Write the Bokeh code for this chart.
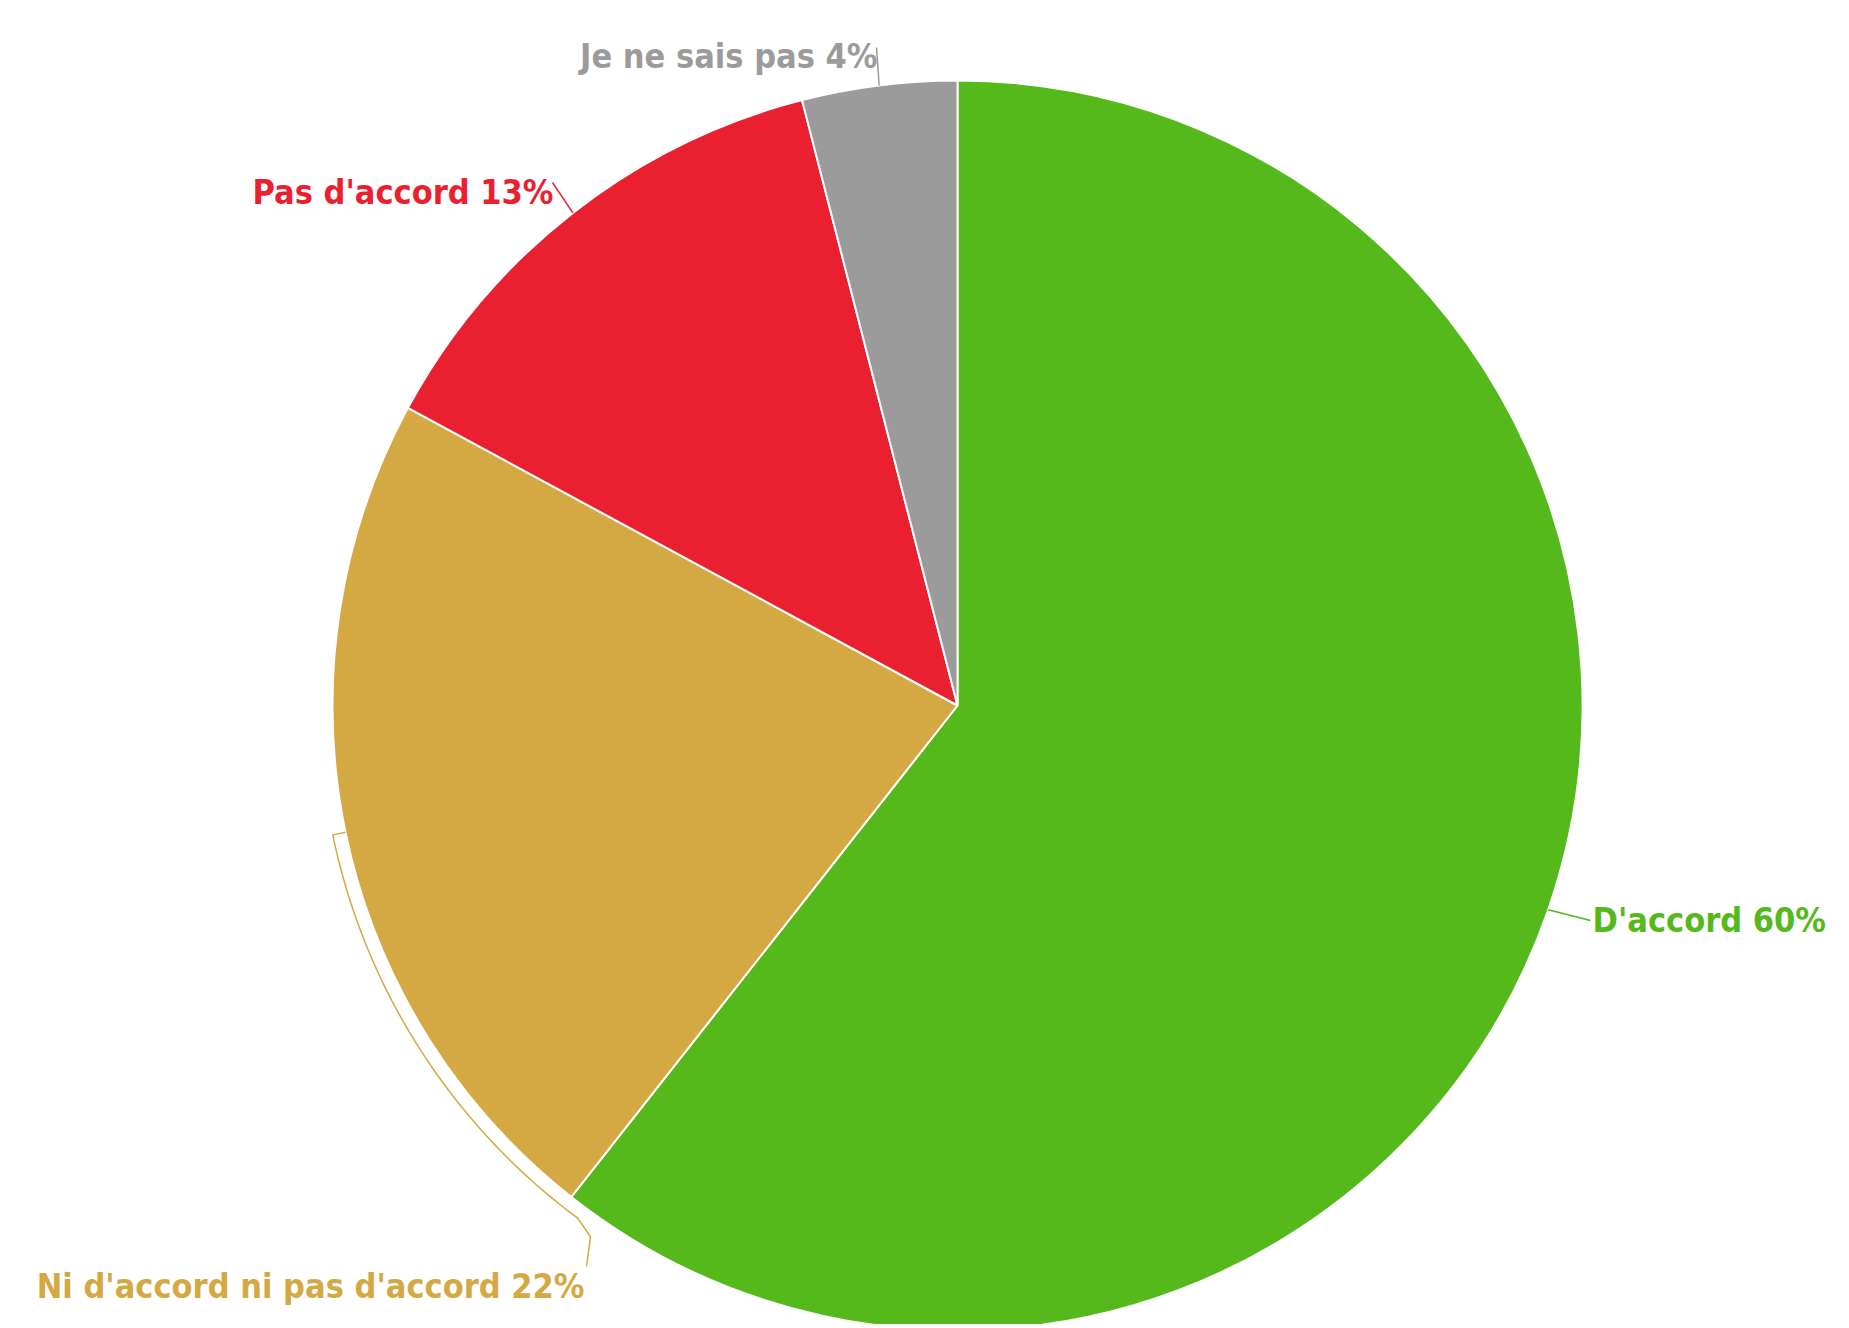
import numpy as np
from bokeh.plotting import figure
from bokeh.models import Range1d, ColumnDataSource
from bokeh.core.properties import value
from bokeh.embed import file_html
from bokeh.resources import INLINE

# ---- data ----
categories = ["D'accord", "Ni d'accord ni pas d'accord", "Pas d'accord", "Je ne sais pas"]
shares = [60.6, 22.3, 13.1, 4.0]          # slice sizes
pct_labels = ["60%", "22%", "13%", "4%"]   # printed percentages
colors = ["#55B91B", "#D4A943", "#EA1F2F", "#9B9B9B"]

# ---- layout (page pixel coordinates; data y = H_PAGE - pixel y) ----
W, H = 1845, 1324
H_PAGE = 1328
CX, CY_PIX, R = 957, 705, 625
CY = H_PAGE - CY_PIX

def Y(py):
    return H_PAGE - py

# label anchors: (x, baseline y in pixels, align)
label_pos = [(1592, 919, "left"), (584, 1285, "right"), (553, 191, "right"), (877, 55, "right")]
FONT = "'DejaVu Sans Condensed', Roboto"
FONT_SIZE = "34px"

p = figure(width=W, height=H, output_backend="svg", toolbar_location=None,
           x_range=Range1d(0, W), y_range=Range1d(H_PAGE - H, H_PAGE),
           min_border=0, outline_line_color=None)
p.axis.visible = False
p.grid.visible = False
p.background_fill_color = "white"
p.border_fill_color = "white"

total = float(sum(shares))
ang = np.array(shares) / total * 2 * np.pi
starts = np.pi / 2 - np.concatenate([[0], np.cumsum(ang)[:-1]])
ends = starts - ang
mids = (starts + ends) / 2

src = ColumnDataSource(dict(x=[CX] * 4, y=[CY] * 4, start=list(starts), end=list(ends), color=colors))
p.wedge(x="x", y="y", radius=R, start_angle="start", end_angle="end", direction="clock",
        fill_color="color", line_color="white", line_width=2, source=src)

# connectors
edge = [(CX + R * np.cos(m), CY + R * np.sin(m)) for m in mids]
ex, ey = edge[0]
p.line([ex, 1590], [ey, Y(920)], line_color=colors[0], line_width=1.5)
ex, ey = edge[2]
p.line([ex, 552], [ey, Y(182)], line_color=colors[2], line_width=1.5)
ex, ey = edge[3]
p.line([ex, 876], [ey, Y(47)], line_color=colors[3], line_width=1.5)
R2 = R + 13
a0 = mids[1] + 2 * np.pi
a1 = starts[1] + 2 * np.pi + np.radians(1.6)
arc_a = np.linspace(a0, a1, 80)
ex, ey = edge[1]
xs = [ex] + list(CX + R2 * np.cos(arc_a)) + [590, 586]
ys = [ey] + list(CY + R2 * np.sin(arc_a)) + [Y(1236), Y(1266)]
p.line(xs, ys, line_color=colors[1], line_width=1.5)

# labels
for i in range(4):
    lx, ly, al = label_pos[i]
    p.text(x=[lx], y=[Y(ly)], text=[f"{categories[i]} {pct_labels[i]}"],
           text_color=colors[i], text_font=value(FONT), text_font_style="bold",
           text_font_size=FONT_SIZE, text_align=al, text_baseline="alphabetic")

open("out.html", "w").write(file_html(p, INLINE))
